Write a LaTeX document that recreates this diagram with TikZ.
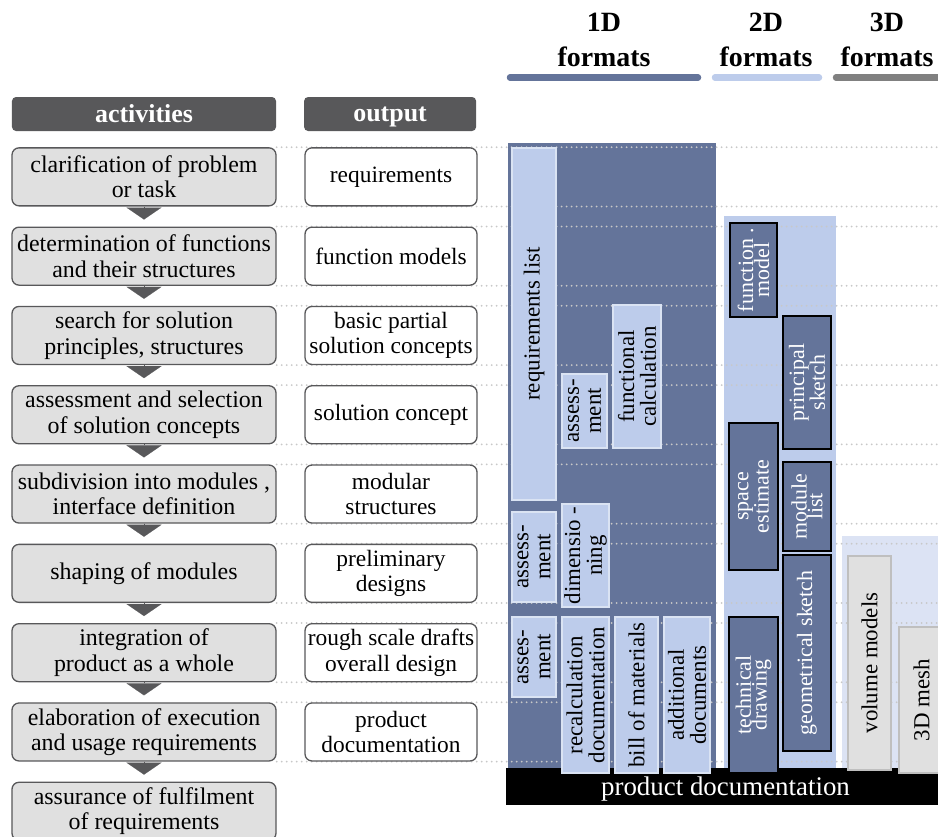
\documentclass[tikz,border=0pt]{standalone}
\usepackage{fontspec}
\setmainfont{Liberation Serif}
\usetikzlibrary{arrows.meta, positioning, calc, backgrounds}

\definecolor{headgray}{RGB}{88,88,90}
\definecolor{actgray}{RGB}{224,224,224}
\definecolor{darkblue}{RGB}{100,116,154}
\definecolor{lightblue}{RGB}{189,204,235}
\definecolor{paleblue}{RGB}{220,227,244}
\definecolor{boxedge}{RGB}{218,227,243}
\definecolor{meshgray}{RGB}{191,191,191}
\definecolor{dotgray}{RGB}{200,200,200}

\begin{document}
\begin{tikzpicture}[
    x=1bp, y=-1bp,
    node distance=20bp and 27.7bp,
    headbox/.style={rectangle, rounded corners=4bp, fill=headgray, text=white, minimum width=264bp, minimum height=34bp, inner sep=0pt, text depth=0bp, font=\fontsize{26}{30}\selectfont\bfseries},
    actbox/.style={rectangle, draw=headgray, line width=1.3bp, rounded corners=7bp, fill=actgray, minimum width=264bp, minimum height=58bp, inner sep=2bp, align=center, font=\fontsize{24}{25.5}\selectfont},
    outbox/.style={actbox, fill=white, minimum width=172bp, font=\fontsize{23.5}{25.5}\selectfont},
    flow/.style={-{Triangle[width=35bp, length=12bp]}, line width=0.1bp, draw=headgray, fill=headgray, shorten >=7bp},
    guide/.style={draw=dotgray, line width=2bp, line cap=round, dash pattern=on 0bp off 5bp},
    fmthead/.style={align=center, inner sep=0pt, font=\fontsize{28}{35}\selectfont\bfseries},
    fmtbar/.style={line width=6.5bp, line cap=round},
    fmtlight/.style={rectangle, rotate=90, fill=lightblue, draw=boxedge, line width=1.5bp, inner sep=1bp, align=center, font=\fontsize{23}{22}\selectfont},
    fmtdark/.style={fmtlight, fill=darkblue, draw=black, line width=2.5bp, text=white, font=\fontsize{22}{16}\selectfont},
    fmtgray/.style={fmtlight, fill=actgray, draw=meshgray, line width=2bp},
    prodbar/.style={rectangle, fill=black, text=white, minimum width=439bp, minimum height=37bp, inner sep=0pt, text depth=0bp, font=\fontsize{27}{30}\selectfont}
]
\useasboundingbox (0,0) rectangle (938,837);
\coordinate (edge) at (938,0);

% Column heads
\node[headbox] (acthead) at (144,114) {activities};
\node[headbox, minimum width=172bp, right=of acthead] (outhead) {output};

% Activities and their outputs
\node[actbox, below=16bp of acthead] (act1) {clarification of problem\\or task};
\node[outbox, right=of act1] (out1) {requirements};

\node[actbox, below=of act1] (act2) {determination of functions\\and their structures};
\node[outbox, right=of act2] (out2) {function models};

\node[actbox, below=of act2] (act3) {search for solution\\principles, structures};
\node[outbox, right=of act3] (out3) {basic partial\\solution concepts};

\node[actbox, below=of act3] (act4) {assessment and selection\\of solution concepts};
\node[outbox, right=of act4] (out4) {solution concept};

\node[actbox, below=of act4] (act5) {subdivision into modules ,\\interface definition};
\node[outbox, right=of act5] (out5) {modular\\structures};

\node[actbox, below=of act5] (act6) {shaping of modules};
\node[outbox, right=of act6] (out6) {preliminary\\designs};

\node[actbox, below=of act6] (act7) {integration of\\product as a whole};
\node[outbox, right=of act7] (out7) {rough scale drafts\\overall design};

\node[actbox, below=of act7] (act8) {elaboration of execution\\and usage requirements};
\node[outbox, right=of act8] (out8) {product\\documentation};

\node[actbox, below=of act8] (act9) {assurance of fulfilment\\of requirements};

% Flow between activities
\draw[flow] (act1) -- (act2);
\draw[flow] (act2) -- (act3);
\draw[flow] (act3) -- (act4);
\draw[flow] (act4) -- (act5);
\draw[flow] (act5) -- (act6);
\draw[flow] (act6) -- (act7);
\draw[flow] (act7) -- (act8);
\draw[flow] (act8) -- (act9);

% Format heads
\node[fmthead] (h1d) at (604,40) {1D\\formats};
\node[fmthead] (h2d) at (766,40) {2D\\formats};
\node[fmthead] (h3d) at (887,40) {3D\\formats};
\draw[fmtbar, darkblue] (510,77.5) -- (698,77.5);
\draw[fmtbar, lightblue] (715,77.5) -- (819,77.5);
\draw[fmtbar, gray] (836,77.5) -- (960,77.5);

% 1D formats
\node[fmtlight, minimum width=352bp, minimum height=44bp] (reqlist) at (534,324) {requirements list};
\node[fmtlight, minimum width=74bp, minimum height=45bp] (assess1) at (584.5,411) {assess-\\ment};
\node[fmtlight, minimum width=143bp, minimum height=48bp] (funccalc) at (637,376.5) {functional\\calculation};
\node[fmtlight, minimum width=90bp, minimum height=44bp] (assess2) at (534,557) {assess-\\ment};
\node[fmtlight, minimum width=103bp, minimum height=47bp] (dimens) at (585.5,555.5) {dimensio -\\ning};
\node[fmtlight, minimum width=80bp, minimum height=44bp] (assess3) at (534,657) {asses-\\ment};
\node[fmtlight, minimum width=156bp, minimum height=47bp] (recalc) at (585.5,695) {recalculation\\documentation};
\node[fmtlight, minimum width=156bp, minimum height=43bp] (bom) at (636.5,695) {bill of materials};
\node[fmtlight, minimum width=156bp, minimum height=46bp] (adddoc) at (687,695) {additional\\documents};

% 2D formats
\node[fmtdark, minimum width=94bp, minimum height=47bp] (funcmodel) at (753.5,270) {function .\\model};
\node[fmtdark, minimum width=133bp, minimum height=48bp] (princ) at (807,382.5) {principal\\sketch};
\node[fmtdark, minimum width=147bp, minimum height=49bp] (space) at (753.5,496.5) {space\\estimate};
\node[fmtdark, minimum width=89bp, minimum height=48bp] (modlist) at (807,506.5) {module\\list};
\node[fmtdark, minimum width=196bp, minimum height=48bp] (geosketch) at (807,653) {geometrical sketch};
\node[fmtdark, minimum width=156bp, minimum height=49bp] (techdraw) at (753.5,695) {technical\\drawing};

% 3D formats
\node[fmtgray, minimum width=214bp, minimum height=43bp] (volmodels) at (869.5,663) {volume models};
\node[fmtgray, minimum width=146bp, minimum height=45bp] (mesh) at (921.5,700) {3D mesh};

% Format areas, product bar and row guides
\begin{scope}[on background layer]
    \fill[darkblue] (508,143) rectangle (716,790);
    \fill[lightblue] (724,216) rectangle (836,790);
    \fill[paleblue] (842,536) rectangle (960,790);
    \node[prodbar] (proddoc) at (725.5,786.5) {product documentation};
    \foreach \n in {1,...,8} {
        \draw[guide] (act\n.north east) -- (act\n.north east -| edge);
        \draw[guide] (act\n.south east) -- (act\n.south east -| edge);
    }
\end{scope}

\end{tikzpicture}
\end{document}
